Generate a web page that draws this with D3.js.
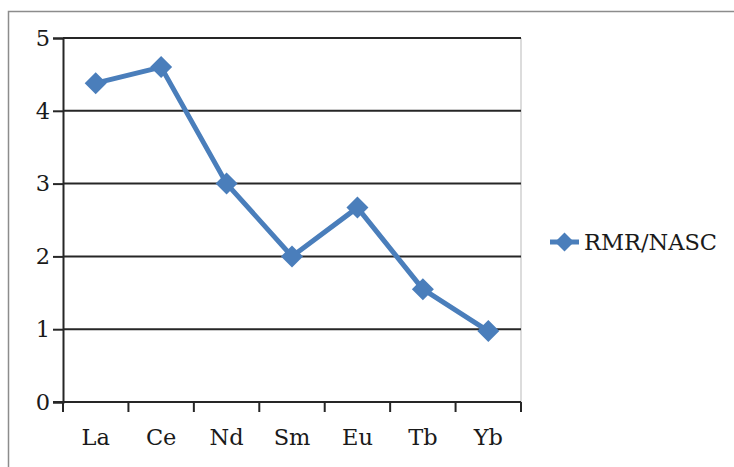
<!DOCTYPE html>
<html>
<head>
<meta charset="utf-8">
<script src="https://cdn.jsdelivr.net/npm/d3@7/dist/d3.min.js"></script>
<style>
  html, body { margin: 0; padding: 0; background: #fff; }
  svg { display: block; }
  text { font-family: "DejaVu Serif", "Liberation Serif", serif; fill: #1a1a1a; }
</style>
</head>
<body>
<svg id="chart" width="734" height="467"></svg>
<script>
// REE ratios normalised to NASC
const elements = ["La", "Ce", "Nd", "Sm", "Eu", "Tb", "Yb"];
const ratios = [4.38, 4.60, 3.00, 2.00, 2.67, 1.55, 0.975];
const yTicks = [0, 1, 2, 3, 4, 5];
const seriesName = "RMR/NASC";

const blue = "#4a7ebb";
const fontSize = 22.5;
const svg = d3.select("#chart");

// chart frame (top and left edges)
svg.append("path")
  .attr("d", "M8.5,467 V11.5 H734")
  .attr("fill", "none")
  .attr("stroke", "#8c8c8c")
  .attr("stroke-width", 1.5);

const plotLeft = 63, plotRight = 521, plotTop = 38, plotBottom = 402;

const x = d3.scaleBand().domain(elements).range([plotLeft, plotRight]);
const y = d3.scaleLinear().domain([0, 5]).range([plotBottom, plotTop]);

// light plot-area border on the right
svg.append("line")
  .attr("x1", plotRight).attr("x2", plotRight)
  .attr("y1", plotTop).attr("y2", plotBottom)
  .attr("stroke", "#d0d0d0").attr("stroke-width", 1.5);

// horizontal gridlines
svg.append("g")
  .selectAll("line")
  .data(yTicks.filter(d => d > 0))
  .join("line")
  .attr("x1", plotLeft).attr("x2", plotRight)
  .attr("y1", d => y(d)).attr("y2", d => y(d))
  .attr("stroke", "#262626").attr("stroke-width", 2);

// y axis
const yAxis = svg.append("g")
  .attr("transform", `translate(${plotLeft},0)`)
  .call(d3.axisLeft(y).tickValues(yTicks).tickFormat(d3.format("d")).tickSize(10).tickPadding(3));
yAxis.select(".domain").attr("stroke", "#262626").attr("stroke-width", 2);
yAxis.selectAll(".tick line").attr("stroke", "#262626").attr("stroke-width", 2);
yAxis.selectAll(".tick text")
  .attr("font-size", fontSize)
  .attr("font-family", "DejaVu Serif, serif")
  .attr("fill", "#1a1a1a");

// x axis with ticks on category boundaries
const xAxisG = svg.append("g").attr("transform", `translate(0,${plotBottom})`);
xAxisG.append("line")
  .attr("x1", plotLeft - 10).attr("x2", plotRight)
  .attr("stroke", "#262626").attr("stroke-width", 2);
const boundaries = elements.map(e => x(e)).concat([plotRight]);
xAxisG.selectAll("line.tk")
  .data(boundaries)
  .join("line")
  .attr("class", "tk")
  .attr("x1", d => d).attr("x2", d => d)
  .attr("y1", 0).attr("y2", 10)
  .attr("stroke", "#262626").attr("stroke-width", 2);
xAxisG.selectAll("text")
  .data(elements)
  .join("text")
  .attr("x", d => x(d) + x.bandwidth() / 2)
  .attr("y", 43)
  .attr("text-anchor", "middle")
  .attr("font-size", fontSize)
  .text(d => d);

// series line
const cx = (d, i) => x(elements[i]) + x.bandwidth() / 2;
svg.append("path")
  .datum(ratios)
  .attr("d", d3.line().x(cx).y(d => y(d)))
  .attr("fill", "none")
  .attr("stroke", blue)
  .attr("stroke-width", 5)
  .attr("stroke-linejoin", "round");

// diamond markers
const diamond = r => `M0,${-r} L${r},0 L0,${r} L${-r},0 Z`;
svg.append("g")
  .selectAll("path")
  .data(ratios)
  .join("path")
  .attr("transform", (d, i) => `translate(${cx(d, i)},${y(d)})`)
  .attr("d", diamond(11))
  .attr("fill", blue);

// legend
const lg = svg.append("g").attr("transform", "translate(550,242)");
lg.append("line")
  .attr("x1", 0).attr("x2", 29)
  .attr("stroke", blue).attr("stroke-width", 5);
lg.append("path")
  .attr("transform", "translate(14.5,0)")
  .attr("d", diamond(9.5))
  .attr("fill", blue);
lg.append("text")
  .attr("x", 34).attr("y", 8)
  .attr("font-size", fontSize)
  .text(seriesName);
</script>
</body>
</html>
